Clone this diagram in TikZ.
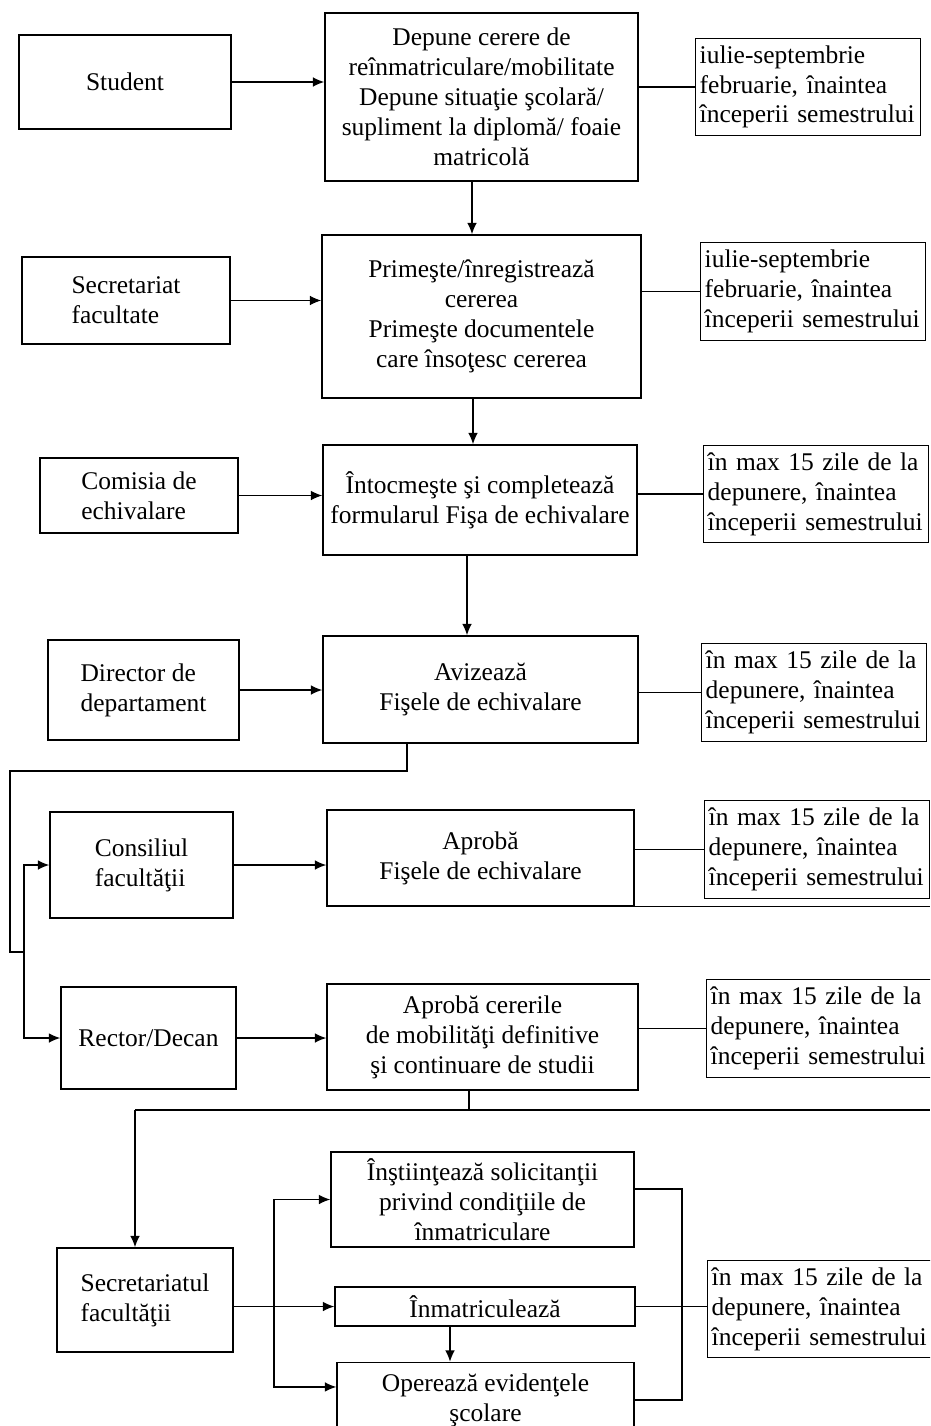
\documentclass[tikz,border=0pt]{standalone}
\usepackage{fontspec}
\setmainfont{Liberation Serif}
\usetikzlibrary{arrows.meta}

\begin{document}
\begin{tikzpicture}[x=0.02cm, y=-0.02cm,
  every node/.style={font=\fontsize{14.5pt}{17pt}\selectfont},
  box/.style={draw, line width=0.8pt, align=center, inner sep=0pt},
  who/.style={box, align=left},
  datebox/.style={draw, line width=0.8pt, anchor=west, text width=4.34cm, minimum width=4.5cm, minimum height=1.95cm, align=left, inner xsep=0.08cm, inner ysep=0pt},
  flow/.style={line width=0.8pt, -{Latex[length=6.5pt,width=5.5pt]}},
  link/.style={line width=0.8pt}]
\useasboundingbox (0,0) rectangle (930,1426);
\clip (0,0) rectangle (930,1426);

% row 1
\node[who, minimum width=4.24cm, minimum height=1.88cm] (student) at (125,82) {Student};
\node[box, minimum width=6.26cm, minimum height=3.36cm] (depune) at (481.5,97) {Depune cerere de\\reînmatriculare/mobilitate\\Depune situaţie şcolară/\\supliment la diplomă/ foaie\\matricolă};
\node[datebox] (t1) at (695,87) {iulie-septembrie\\februarie, înaintea\\începerii semestrului};

% row 2
\node[who, minimum width=4.16cm, minimum height=1.74cm] (secretariat) at (126,300.5) {Secretariat\\facultate};
\node[box, minimum width=6.38cm, minimum height=3.26cm] (primeste) at (481.5,316.5) {Primeşte/înregistrează\\cererea\\Primeşte documentele\\care însoţesc cererea};
\node[datebox] (t2) at (700,291.5) {iulie-septembrie\\februarie, înaintea\\începerii semestrului};

% row 3
\node[who, minimum width=3.96cm, minimum height=1.5cm] (comisia) at (139,495.5) {Comisia de\\echivalare};
\node[box, minimum width=6.28cm, minimum height=2.2cm] (intocmeste) at (480,500) {Întocmeşte şi completează\\formularul Fişa de echivalare};
\node[datebox] (t3) at (703,494) {în max 15 zile de la\\depunere, înaintea\\începerii semestrului};

% row 4
\node[who, minimum width=3.82cm, minimum height=2.0cm] (director) at (143.5,690) {Director de\\departament};
\node[box, minimum width=6.3cm, minimum height=2.14cm] (avizeaza) at (480.5,689.5) {Avizează\\Fişele de echivalare};
\node[datebox] (t4) at (701,692.5) {în max 15 zile de la\\depunere, înaintea\\începerii semestrului};

% row 5
\node[who, minimum width=3.66cm, minimum height=2.12cm] (consiliul) at (141.5,865) {Consiliul\\facultăţii};
\node[box, minimum width=6.14cm, minimum height=1.92cm] (aproba) at (480.5,858) {Aprobă\\Fişele de echivalare};
\node[datebox] (t5) at (704,849.5) {în max 15 zile de la\\depunere, înaintea\\începerii semestrului};

% row 6
\node[who, minimum width=3.5cm, minimum height=2.04cm] (rector) at (148.5,1038) {Rector/Decan};
\node[box, minimum width=6.22cm, minimum height=2.12cm] (aprobacereri) at (482.5,1037) {Aprobă cererile\\de mobilităţi definitive\\şi continuare de studii};
\node[datebox] (t6) at (706,1028.5) {în max 15 zile de la\\depunere, înaintea\\începerii semestrului};

% row 7
\node[who, minimum width=3.52cm, minimum height=2.08cm] (secretariatul) at (145,1300) {Secretariatul\\facultăţii};
\node[box, minimum width=6.06cm, minimum height=1.9cm] (instiinteaza) at (482.5,1199.5) {Înştiinţează solicitanţii\\privind condiţiile de\\înmatriculare};
\node[box, minimum width=6.0cm, minimum height=0.78cm] (inmatriculeaza) at (485,1306.5) {Înmatriculează};
\node[box, minimum width=5.94cm, minimum height=1.5cm] (opereaza) at (485.5,1400) {Operează evidenţele\\şcolare};
\node[datebox] (t7) at (707,1309) {în max 15 zile de la\\depunere, înaintea\\începerii semestrului};

% actors to tasks
\draw[flow] (student.east) -- (student.east -| depune.west);
\draw[flow] (secretariat.east) -- (secretariat.east -| primeste.west);
\draw[flow] (comisia.east) -- (comisia.east -| intocmeste.west);
\draw[flow] (director.east) -- (director.east -| avizeaza.west);
\draw[flow] (consiliul.east) -- (consiliul.east -| aproba.west);
\draw[flow] (rector.east) -- (rector.east -| aprobacereri.west);

% tasks to deadlines
\draw[link] (t1.west -| depune.east) -- (t1.west);
\draw[link] (t2.west -| primeste.east) -- (t2.west);
\draw[link] (t3.west -| intocmeste.east) -- (t3.west);
\draw[link] (t4.west -| avizeaza.east) -- (t4.west);
\draw[link] (t5.west -| aproba.east) -- (t5.west);
\draw[link] (t6.west -| aprobacereri.east) -- (t6.west);
\draw[link] (aproba.south east) -- (aproba.south east -| 930,0);

% main sequence
\draw[flow] (depune.south -| 472,0) -- (primeste.north -| 472,0);
\draw[flow] (primeste.south -| 473,0) -- (intocmeste.north -| 473,0);
\draw[flow] (intocmeste.south -| 467,0) -- (avizeaza.north -| 467,0);

\coordinate (split) at (24,952);
\draw[link] (avizeaza.south -| 407,0) |- (10,771) |- (split);
\draw[flow] (split) |- (consiliul.west);
\draw[flow] (split) |- (rector.west);

\coordinate (bus) at (135,1110);
\draw[link] (aprobacereri.south -| 469,0) -- (469,1110);
\draw[link] (bus) -- (930,1110);
\draw[flow] (bus) -- (bus |- secretariatul.north);

% last step
\coordinate (fork) at (274,1306.5);
\draw[flow] (secretariatul.east |- inmatriculeaza.west) -- (inmatriculeaza.west);
\draw[flow] (fork) |- (instiinteaza.west);
\draw[flow] (fork) |- (opereaza.175);
\draw[flow] (inmatriculeaza.south -| 450,0) -- (opereaza.north -| 450,0);

\coordinate (join) at (682,1306.5);
\draw[link] (instiinteaza.4) -| (join) |- (opereaza.east);
\draw[link] (inmatriculeaza.east) -- (inmatriculeaza.east -| t7.west);
\end{tikzpicture}
\end{document}
